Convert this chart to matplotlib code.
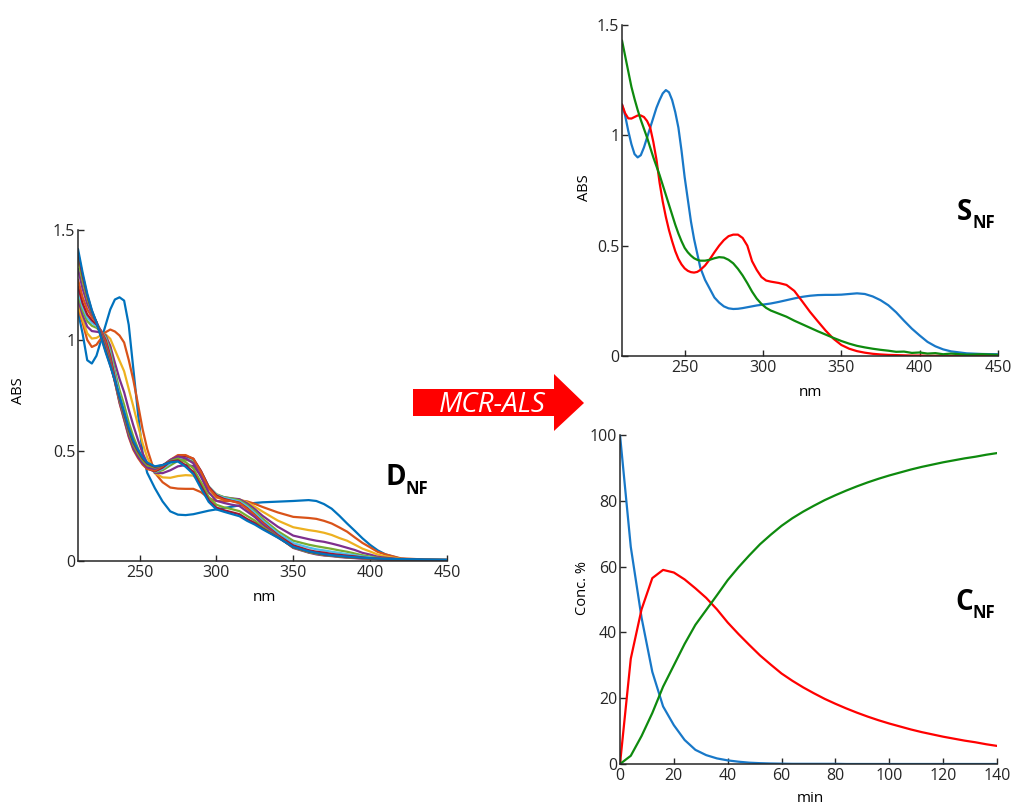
import matplotlib
matplotlib.use("Agg")
import matplotlib.pyplot as plt
from matplotlib.patches import Polygon

plt.rcParams["font.family"] = ["Open Sans", "DejaVu Sans"]

W, H = 1015, 805

# resolved spectra (S)
s_wavelengths = [210, 212, 214, 216, 218, 220, 222, 224, 226, 228, 230, 232, 234, 236, 238, 240, 242,
                 244, 246, 248, 250, 252, 254, 256, 258, 260, 263, 266, 269, 272, 275, 278, 281, 284,
                 287, 290, 293, 296, 299, 302, 305, 310, 315, 320, 325, 330, 335, 340, 345, 350, 355,
                 360, 365, 370, 375, 380, 385, 390, 395, 400, 405, 410, 415, 420, 430, 440, 450]
s_blue = [1.14, 1.09, 1.02, 0.96, 0.915, 0.90, 0.91, 0.945, 0.99, 1.035, 1.08, 1.125, 1.16, 1.19, 1.205, 1.195, 1.16,
          1.105, 1.035, 0.93, 0.81, 0.71, 0.61, 0.53, 0.465, 0.40, 0.345, 0.305, 0.265, 0.242, 0.225, 0.216, 0.213, 0.214,
          0.217, 0.221, 0.225, 0.229, 0.232, 0.235, 0.238, 0.245, 0.253, 0.261, 0.268, 0.273, 0.276, 0.277, 0.277, 0.278, 0.281,
          0.284, 0.281, 0.27, 0.253, 0.23, 0.198, 0.16, 0.124, 0.093, 0.064, 0.044, 0.03, 0.021, 0.012, 0.009, 0.008]
s_red = [1.14, 1.10, 1.077, 1.076, 1.083, 1.09, 1.09, 1.083, 1.065, 1.035, 0.97, 0.89, 0.785, 0.70, 0.63, 0.57, 0.52,
         0.475, 0.44, 0.415, 0.397, 0.386, 0.38, 0.378, 0.381, 0.39, 0.41, 0.438, 0.47, 0.50, 0.525, 0.543, 0.55, 0.55,
         0.535, 0.50, 0.43, 0.39, 0.358, 0.342, 0.337, 0.331, 0.322, 0.295, 0.248, 0.2, 0.157, 0.115, 0.078, 0.05, 0.033,
         0.022, 0.015, 0.01, 0.007, 0.005, 0.004, 0.003, 0.002, 0.002, 0.001, 0.001, 0.001, 0.001, 0.001, 0.001, 0.001]
s_green = [1.43, 1.36, 1.29, 1.22, 1.165, 1.115, 1.07, 1.03, 0.99, 0.945, 0.90, 0.86, 0.82, 0.775, 0.73, 0.685, 0.64,
           0.595, 0.555, 0.52, 0.49, 0.47, 0.455, 0.443, 0.436, 0.432, 0.432, 0.436, 0.443, 0.448, 0.446, 0.436, 0.42, 0.395,
           0.365, 0.33, 0.292, 0.26, 0.236, 0.218, 0.206, 0.192, 0.178, 0.16, 0.144, 0.128, 0.112, 0.097, 0.082, 0.068, 0.056,
           0.046, 0.039, 0.033, 0.028, 0.024, 0.019, 0.02, 0.014, 0.016, 0.011, 0.013, 0.008, 0.011, 0.006, 0.008, 0.005]

# measured data (D), one row per recorded spectrum
d_wavelengths = [210, 213, 216, 219, 222, 225, 228, 231, 234, 237, 240, 243, 246, 249,
                 252, 255, 260, 265, 270, 275, 280, 285, 290, 295, 300, 305, 310, 315,
                 320, 325, 330, 340, 350, 360,
                 365, 370, 375, 380, 385, 390, 395, 400, 405, 410, 420, 435, 450]
d_rows = [
    [1.13, 1.03, 0.91, 0.895, 0.93, 1.00, 1.07, 1.14, 1.185, 1.195, 1.18, 1.07, 0.87, 0.67,
     0.49, 0.40, 0.33, 0.27, 0.225, 0.21, 0.208, 0.212, 0.22, 0.228, 0.234, 0.24, 0.246, 0.252,
     0.258, 0.263, 0.266, 0.269, 0.272, 0.276,
     0.272, 0.258, 0.237, 0.205, 0.17, 0.137, 0.103, 0.073, 0.048, 0.03, 0.01, 0.004, 0.003],
    [1.153, 1.080, 1.002, 0.970, 0.980, 1.009, 1.037, 1.049, 1.040, 1.022, 0.990, 0.911, 0.820, 0.711,
     0.598, 0.508, 0.400, 0.357, 0.333, 0.328, 0.327, 0.327, 0.312, 0.285, 0.272, 0.270, 0.273, 0.275,
     0.270, 0.259, 0.245, 0.220, 0.200, 0.195,
     0.191, 0.182, 0.170, 0.152, 0.133, 0.107, 0.082, 0.062, 0.041, 0.030, 0.012, 0.007, 0.005],
    [1.165, 1.094, 1.032, 1.008, 1.011, 1.023, 1.027, 1.007, 0.957, 0.908, 0.860, 0.780, 0.700, 0.616,
     0.534, 0.470, 0.398, 0.379, 0.377, 0.385, 0.389, 0.387, 0.356, 0.311, 0.287, 0.281, 0.280, 0.279,
     0.266, 0.246, 0.224, 0.183, 0.153, 0.140,
     0.135, 0.128, 0.118, 0.104, 0.092, 0.074, 0.056, 0.043, 0.029, 0.021, 0.009, 0.005, 0.004],
    [1.185, 1.115, 1.062, 1.042, 1.039, 1.036, 1.022, 0.975, 0.898, 0.825, 0.765, 0.686, 0.614, 0.549,
     0.489, 0.444, 0.399, 0.398, 0.411, 0.429, 0.435, 0.430, 0.389, 0.330, 0.299, 0.289, 0.284, 0.280,
     0.261, 0.235, 0.205, 0.155, 0.115, 0.099,
     0.092, 0.087, 0.079, 0.070, 0.060, 0.050, 0.037, 0.029, 0.019, 0.015, 0.007, 0.004, 0.004],
    [1.208, 1.136, 1.087, 1.066, 1.057, 1.041, 1.015, 0.955, 0.862, 0.775, 0.708, 0.628, 0.563, 0.510,
     0.464, 0.430, 0.402, 0.411, 0.433, 0.454, 0.459, 0.451, 0.403, 0.337, 0.303, 0.289, 0.283, 0.275,
     0.253, 0.225, 0.192, 0.135, 0.092, 0.074,
     0.067, 0.061, 0.055, 0.048, 0.042, 0.034, 0.026, 0.020, 0.014, 0.011, 0.005, 0.004, 0.003],
    [1.227, 1.152, 1.104, 1.079, 1.066, 1.043, 1.009, 0.941, 0.843, 0.751, 0.680, 0.600, 0.537, 0.490,
     0.452, 0.423, 0.404, 0.418, 0.443, 0.467, 0.470, 0.460, 0.407, 0.338, 0.300, 0.286, 0.278, 0.270,
     0.247, 0.217, 0.183, 0.126, 0.081, 0.061,
     0.053, 0.048, 0.042, 0.037, 0.031, 0.026, 0.020, 0.016, 0.011, 0.008, 0.005, 0.004, 0.003],
    [1.245, 1.168, 1.117, 1.091, 1.072, 1.043, 1.001, 0.928, 0.827, 0.732, 0.658, 0.580, 0.519, 0.476,
     0.442, 0.419, 0.406, 0.423, 0.451, 0.474, 0.476, 0.464, 0.408, 0.336, 0.297, 0.281, 0.272, 0.264,
     0.239, 0.208, 0.175, 0.117, 0.071, 0.049,
     0.042, 0.038, 0.032, 0.028, 0.024, 0.021, 0.016, 0.013, 0.009, 0.007, 0.005, 0.004, 0.003],
    [1.275, 1.195, 1.140, 1.106, 1.080, 1.042, 0.993, 0.917, 0.814, 0.716, 0.640, 0.562, 0.504, 0.467,
     0.437, 0.417, 0.410, 0.430, 0.458, 0.480, 0.480, 0.463, 0.403, 0.330, 0.291, 0.277, 0.271, 0.262,
     0.236, 0.207, 0.172, 0.112, 0.062, 0.040,
     0.034, 0.027, 0.024, 0.020, 0.017, 0.014, 0.011, 0.011, 0.008, 0.006, 0.005, 0.004, 0.003],
    [1.324, 1.234, 1.166, 1.120, 1.084, 1.033, 0.976, 0.902, 0.811, 0.720, 0.644, 0.568, 0.510, 0.473,
     0.444, 0.424, 0.417, 0.433, 0.458, 0.474, 0.465, 0.443, 0.381, 0.311, 0.273, 0.263, 0.255, 0.249,
     0.224, 0.199, 0.166, 0.111, 0.059, 0.038,
     0.030, 0.025, 0.022, 0.018, 0.015, 0.013, 0.011, 0.010, 0.008, 0.007, 0.006, 0.005, 0.004],
    [1.368, 1.269, 1.189, 1.128, 1.082, 1.024, 0.962, 0.893, 0.814, 0.731, 0.658, 0.584, 0.526, 0.487,
     0.456, 0.434, 0.423, 0.433, 0.453, 0.464, 0.448, 0.420, 0.356, 0.290, 0.255, 0.243, 0.235, 0.226,
     0.204, 0.183, 0.155, 0.109, 0.061, 0.040,
     0.033, 0.027, 0.024, 0.020, 0.017, 0.015, 0.013, 0.011, 0.009, 0.009, 0.007, 0.006, 0.005],
    [1.397, 1.294, 1.204, 1.134, 1.081, 1.018, 0.952, 0.887, 0.817, 0.740, 0.668, 0.596, 0.537, 0.498,
     0.465, 0.442, 0.427, 0.434, 0.450, 0.456, 0.434, 0.403, 0.340, 0.276, 0.242, 0.230, 0.221, 0.212,
     0.190, 0.172, 0.148, 0.107, 0.063, 0.043,
     0.036, 0.029, 0.026, 0.022, 0.019, 0.016, 0.014, 0.012, 0.011, 0.010, 0.008, 0.006, 0.005],
    [1.414, 1.307, 1.212, 1.137, 1.081, 1.013, 0.945, 0.884, 0.818, 0.745, 0.675, 0.603, 0.544, 0.504,
     0.470, 0.446, 0.429, 0.435, 0.447, 0.451, 0.427, 0.394, 0.329, 0.268, 0.234, 0.223, 0.213, 0.203,
     0.182, 0.165, 0.144, 0.106, 0.064, 0.044,
     0.037, 0.031, 0.026, 0.023, 0.020, 0.017, 0.015, 0.013, 0.011, 0.010, 0.009, 0.007, 0.006],
]
d_colors = ["#0072BD", "#D95319", "#EDB120", "#7E2F8E", "#77AC30", "#4DBEEE", "#A2142F",
            "#D95319", "#7E2F8E", "#77AC30", "#A2142F", "#0072BD"]

# concentration profiles (C), %
minutes = [0, 4, 8, 12, 16, 20, 24, 28, 32, 36, 40, 44, 48, 52, 56, 60, 64, 68,
           72, 76, 80, 84, 88, 92, 96, 100, 104, 108, 112, 116, 120, 124, 128, 132, 136, 140]
c_blue = [100, 66, 44.5, 28, 17.5, 11.8, 7.3, 4.3, 2.7, 1.7, 1.1, 0.7, 0.4, 0.25, 0.15, 0.1, 0.05, 0.05,
          0.05, 0.05, 0.05, 0, 0, 0, 0, 0, 0, 0, 0, 0, 0, 0, 0, 0, 0, 0]
c_red = [0, 32, 47, 56.5, 59, 58.2, 56.1, 53.4, 50.5, 47, 43, 39.5, 36.2, 33, 30.2, 27.5, 25.3, 23.3,
         21.5, 19.8, 18.3, 16.9, 15.6, 14.4, 13.3, 12.3, 11.4, 10.5, 9.7, 9.0, 8.3, 7.7, 7.1, 6.6, 6.0, 5.5]
c_green = [0, 2.5, 8.5, 15.5, 23.5, 30, 36.5, 42.3, 46.8, 51.3, 55.9, 59.8, 63.4, 66.8, 69.7, 72.4, 74.7, 76.7,
           78.5, 80.2, 81.7, 83.1, 84.4, 85.6, 86.7, 87.7, 88.6, 89.5, 90.3, 91.0, 91.7, 92.3, 92.9, 93.4, 94.0, 94.5]

BLUE, RED, GREEN = "#1878c8", "#ff0000", "#0e8a0e"
SPINE = "#262626"


def px_axes(fig, left, top, right, bottom):
    return fig.add_axes([left / W, 1 - bottom / H, (right - left) / W, (bottom - top) / H])


def style(ax):
    for side in ("top", "right"):
        ax.spines[side].set_visible(False)
    for side in ("left", "bottom"):
        ax.spines[side].set_color(SPINE)
        ax.spines[side].set_linewidth(1.1)
    ax.tick_params(direction="in", length=4, width=1, colors=SPINE, labelsize=11.5, pad=3)
    ax.tick_params(axis="y", pad=2)


def spectra_axis(ax):
    ax.set_xlim(210, 450)
    ax.set_ylim(0, 1.5)
    ax.set_xticks([250, 300, 350, 400, 450])
    ax.set_yticks([0, 0.5, 1, 1.5])
    ax.set_yticklabels([f"{v:g}" for v in [0, 0.5, 1, 1.5]])
    style(ax)


def label(fig, x, y, big, small, size, sub_size, drop):
    renderer = fig.canvas.get_renderer()
    t = fig.text(x / W, 1 - y / H, big, fontsize=size, fontweight="bold", ha="left", va="baseline")
    bb = t.get_window_extent(renderer=renderer)
    fig.text(bb.x1 / W, 1 - (y + drop) / H, small, fontsize=sub_size, fontweight="bold",
             ha="left", va="baseline")


def line(ax, x, y, color):
    ax.plot(x, y, color=color, lw=1.6, solid_joinstyle="round", solid_capstyle="round")


def main():
    fig = plt.figure(figsize=(W / 100, H / 100), dpi=100)

    ax_d = px_axes(fig, 78, 230, 447, 561)
    for row, color in zip(d_rows, d_colors):
        line(ax_d, d_wavelengths, row, color)
    spectra_axis(ax_d)
    fig.text(18 / W, 1 - 391 / H, "ABS", rotation=90, fontsize=10.5, ha="center", va="center")
    fig.text(264 / W, 1 - 597 / H, "nm", fontsize=11, ha="center", va="center")

    ax_s = px_axes(fig, 622, 25, 998, 356)
    line(ax_s, s_wavelengths, s_blue, BLUE)
    line(ax_s, s_wavelengths, s_red, RED)
    line(ax_s, s_wavelengths, s_green, GREEN)
    spectra_axis(ax_s)
    fig.text(585 / W, 1 - 188 / H, "ABS", rotation=90, fontsize=10.5, ha="center", va="center")
    fig.text(810 / W, 1 - 392 / H, "nm", fontsize=11, ha="center", va="center")

    ax_c = px_axes(fig, 620, 435, 997, 764)
    line(ax_c, minutes, c_blue, BLUE)
    line(ax_c, minutes, c_red, RED)
    line(ax_c, minutes, c_green, GREEN)
    ax_c.set_xlim(0, 140)
    ax_c.set_ylim(0, 100)
    ax_c.set_xticks(range(0, 141, 20))
    ax_c.set_yticks(range(0, 101, 20))
    style(ax_c)
    fig.text(583 / W, 1 - 588 / H, "Conc. %", rotation=90, fontsize=10.5, ha="center", va="center")
    fig.text(810 / W, 1 - 798 / H, "min", fontsize=11, ha="center", va="center")

    label(fig, 385, 485, "D", "NF", 20, 12, 9)
    label(fig, 957, 220, "S", "NF", 20, 12, 8)
    label(fig, 955, 610, "C", "NF", 20, 12, 8)

    arrow = [(413, 389), (554, 389), (554, 374), (584, 403), (554, 431), (554, 416), (413, 416)]
    fig.add_artist(Polygon([(x / W, 1 - y / H) for x, y in arrow], closed=True,
                           transform=fig.transFigure, facecolor="#ff0000", edgecolor="none"))
    fig.text(492 / W, 1 - 412 / H, "MCR-ALS", fontsize=20, style="italic", color="white",
             ha="center", va="baseline")

    fig.savefig("out.png", dpi=100)


if __name__ == "__main__":
    main()
